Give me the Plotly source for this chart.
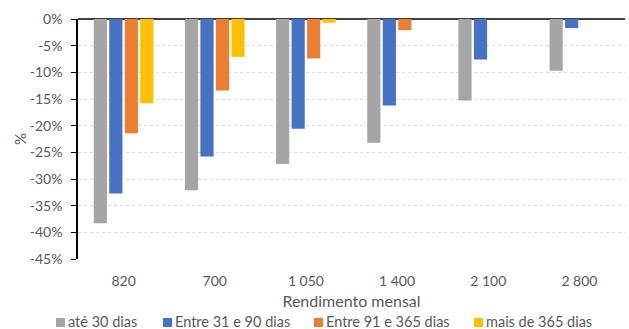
import plotly.graph_objects as go

categories = ["820", "700", "1 050", "1 400", "2 100", "2 800"]
series_names = ["até 30 dias", "Entre 31 e 90 dias", "Entre 91 e 365 dias", "mais de 365 dias"]
ate_30 = [-38.3, -32.1, -27.2, -23.2, -15.3, -9.7]
entre_31_90 = [-32.7, -25.8, -20.6, -16.2, -7.6, -1.7]
entre_91_365 = [-21.4, -13.4, -7.4, -2.1, 0, 0]
mais_365 = [-15.8, -7.1, -0.7, 0, 0, 0]
y_ticks = [0, -5, -10, -15, -20, -25, -30, -35, -40, -45]
y_tick_labels = [f"{v}%" for v in y_ticks]

colors = ["#A5A5A5", "#4472C4", "#ED7D31", "#FFC000"]
font_family = "Lato, 'Liberation Sans', sans-serif"
text_color = "#595959"

# figure and plot-area geometry in pixels
W, H = 629, 329
L, R, T, B = 78, 4, 19, 70
plot_w = W - L - R
plot_h = H - T - B


def px_x(px):
    return (px - L) / plot_w


def px_y(py):
    return (H - B - py) / plot_h


fig = go.Figure()
for name, vals, col in zip(series_names, [ate_30, entre_31_90, entre_91_365, mais_365], colors):
    fig.add_trace(go.Bar(
        x=categories, y=vals, name=name,
        marker=dict(color=col, line=dict(width=0)),
        showlegend=False,
    ))

# compact one-row legend below the axis title: colour square + series name
legend_left_px = [56, 163, 314, 474]
sq = 9
sq_top, sq_bottom = 318, 327
for name, col, px in zip(series_names, colors, legend_left_px):
    fig.add_shape(
        type="rect", xref="paper", yref="paper",
        x0=px_x(px), x1=px_x(px + sq), y0=px_y(sq_bottom), y1=px_y(sq_top),
        fillcolor=col, line=dict(width=0),
    )
    fig.add_annotation(
        xref="paper", yref="paper",
        x=px_x(px + sq + 3), y=px_y(321.5),
        xanchor="left", yanchor="middle", showarrow=False,
        text=name, xshift=-1, borderpad=0,
        font=dict(family=font_family, size=14.5, color=text_color),
    )

fig.update_layout(
    width=W, height=H,
    margin=dict(l=L, r=R, t=T, b=B, autoexpand=False),
    paper_bgcolor="white", plot_bgcolor="white",
    barmode="group", bargap=0.32, bargroupgap=0.15,
    font=dict(family=font_family, color=text_color, size=14),
    showlegend=False,
    xaxis=dict(
        type="category", showline=False, ticks="", showgrid=False,
        ticklabelstandoff=12,
        tickfont=dict(size=14, color=text_color),
        title=dict(text="Rendimento mensal", font=dict(size=16, color=text_color), standoff=7),
    ),
    yaxis=dict(
        range=[-45, 0], tickvals=y_ticks, ticktext=y_tick_labels,
        showline=True, linecolor="black", linewidth=1.5,
        ticks="outside", ticklen=5, tickcolor="black",
        ticklabelstandoff=6,
        showgrid=True, gridcolor="#D9D9D9", griddash="dot", gridwidth=1,
        zeroline=True, zerolinecolor="#404040", zerolinewidth=1.5,
        tickfont=dict(size=14, color=text_color),
        title=dict(text="%", font=dict(size=15, color=text_color), standoff=0),
    ),
)

fig.write_html("out.html")
